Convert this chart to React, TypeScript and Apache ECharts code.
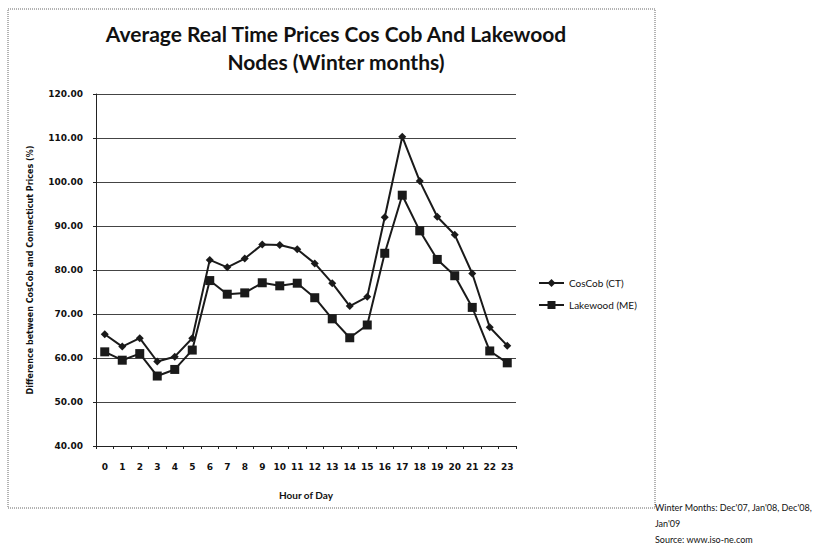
import React, { useEffect, useRef } from "react";
import * as echarts from "echarts";

const hours = ["0","1","2","3","4","5","6","7","8","9","10","11","12","13","14","15","16","17","18","19","20","21","22","23"];
const cosCob = [65.4, 62.6, 64.5, 59.2, 60.3, 64.5, 82.3, 80.6, 82.6, 85.8, 85.7, 84.7, 81.5, 77.0, 71.8, 73.9, 92.0, 110.3, 100.2, 92.1, 88.0, 79.2, 67.0, 62.8];
const lakewood = [61.4, 59.5, 61.0, 55.9, 57.4, 61.8, 77.6, 74.5, 74.8, 77.1, 76.4, 77.0, 73.7, 68.9, 64.6, 67.5, 83.8, 97.0, 88.9, 82.4, 78.7, 71.5, 61.6, 58.9];
const yTicks = { min: 40, max: 120, interval: 10 };

export default function App() {
  const ref = useRef<HTMLDivElement>(null);
  useEffect(() => {
    if (!ref.current) return;
    const chart = echarts.init(ref.current, null, { renderer: "svg" });
    const labelFont = { fontFamily: "DejaVu Sans", fontWeight: "bold" as const, fontSize: 9, color: "#111" };
    chart.setOption({
      animation: false,
      backgroundColor: "#fff",
      title: {
        text: "Average Real Time Prices Cos Cob And Lakewood\nNodes (Winter months)",
        left: 331,
        top: 14,
        textAlign: "center",
        textStyle: { fontFamily: "Lato", fontWeight: "bold", fontSize: 21, lineHeight: 28, color: "#111" },
      },
      grid: { left: 96, top: 94, width: 420, height: 352 },
      xAxis: {
        type: "category",
        data: hours,
        boundaryGap: true,
        name: "Hour of Day",
        nameLocation: "middle",
        nameGap: 44,
        nameTextStyle: { fontFamily: "Lato", fontWeight: "bold", fontSize: 10, color: "#111" },
        axisLine: { lineStyle: { color: "#222", width: 1 } },
        axisTick: { show: true, length: 3, lineStyle: { color: "#222" } },
        axisLabel: { ...labelFont, margin: 16, interval: 0 },
        splitLine: { show: false },
      },
      yAxis: {
        type: "value",
        min: yTicks.min,
        max: yTicks.max,
        interval: yTicks.interval,
        name: "Difference between CosCob and Connecticut Prices (%)",
        nameLocation: "middle",
        nameRotate: 90,
        nameGap: 62,
        nameTextStyle: { fontFamily: "DejaVu Sans", fontWeight: "bold", fontSize: 8, color: "#111" },
        axisLine: { show: true, lineStyle: { color: "#222", width: 1 } },
        axisTick: { show: true, length: 3, lineStyle: { color: "#222" } },
        axisLabel: { ...labelFont, margin: 13, formatter: (v: number) => v.toFixed(2) },
        splitLine: { show: true, lineStyle: { color: "#444", width: 1 } },
      },
      legend: {
        orient: "vertical",
        left: 533,
        top: 273,
        itemWidth: 25,
        itemHeight: 10,
        itemGap: 12,
        textStyle: { fontFamily: "Lato", fontSize: 10, color: "#111" },
        data: ["CosCob (CT)", "Lakewood (ME)"],
      },
      series: [
        {
          name: "CosCob (CT)",
          type: "line",
          data: cosCob,
          symbol: "diamond",
          symbolSize: 8,
          lineStyle: { color: "#1a1a1a", width: 2 },
          itemStyle: { color: "#1a1a1a" },
        },
        {
          name: "Lakewood (ME)",
          type: "line",
          data: lakewood,
          symbol: "rect",
          symbolSize: 9,
          lineStyle: { color: "#1a1a1a", width: 2 },
          itemStyle: { color: "#1a1a1a" },
        },
      ],
      graphic: [
        {
          type: "polyline",
          shape: { points: [[8, 9], [655, 9], [655, 508], [8, 508], [8, 9]] },
          style: { stroke: "#666", lineWidth: 1, lineDash: [1, 1], fill: "none" },
          silent: true,
        },
        {
          type: "text",
          left: 655,
          top: 499,
          style: {
            text: "Winter Months: Dec'07, Jan'08, Dec'08,\nJan'09\nSource: www.iso-ne.com",
            fontFamily: "Lato",
            fontSize: 9,
            lineHeight: 16,
            fill: "#111",
          },
        },
      ],
    });
    return () => chart.dispose();
  }, []);
  return <div ref={ref} style={{ position: "absolute", left: 0, top: 0, width: 817, height: 543 }} />;
}
